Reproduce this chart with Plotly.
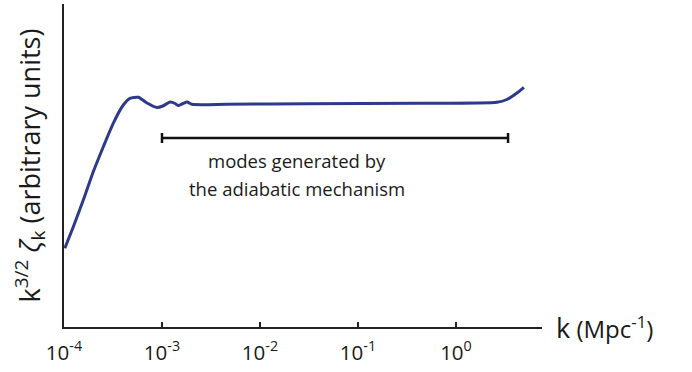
import plotly.graph_objects as go
import math

# curve data (k in Mpc^-1, amplitude in arbitrary units)
k_vals = [1.02e-4, 1.245e-4, 1.574e-4, 1.99e-4, 2.52e-4, 3.18e-4, 4.03e-4, 4.71e-4, 5.73e-4,
          7.03e-4, 8.89e-4, 1.02e-3, 1.21e-3, 1.36e-3, 1.46e-3, 1.64e-3, 1.80e-3,
          2.02e-3, 4.6e-3, 0.030, 0.43, 2.62, 3.31, 4.19, 4.94]
zeta_vals = [78.7, 100.3, 127, 155.3, 180.3, 203.7, 222, 228.7, 229.7,
             224, 219.5, 221, 225, 223.5, 221.5, 223.5, 225,
             222.7, 222.7, 223.3, 223.7, 224.7, 227.5, 234, 239.7]

# range bar for adiabatic modes
bar_k = [1.0e-3, 3.4]
bar_y = [189, 189]
bar_cap = [5, 5]
label_k = 0.0239
label_lines = ["modes generated by", "the adiabatic mechanism"]
label_y = [167, 139]

tick_vals = [1e-4, 1e-3, 1e-2, 1e-1, 1e0]
tick_text = ["10<sup>-4</sup>", "10<sup>-3</sup>", "10<sup>-2</sup>", "10<sup>-1</sup>", "10<sup>0</sup>"]

x_range_log = [-4, 0.878]
y_range = [0, 323]

FONT = "Open Sans"
TXT = "#1a1a1a"

fig = go.Figure()
fig.add_trace(go.Scatter(
    x=k_vals, y=zeta_vals, mode="lines",
    line=dict(color="#2d3a8c", width=3, shape="spline", smoothing=0.6),
    hoverinfo="skip", showlegend=False))
fig.add_trace(go.Scatter(
    x=bar_k, y=bar_y, mode="lines",
    line=dict(color="#111111", width=2.5),
    error_y=dict(type="data", array=bar_cap, symmetric=True, width=0,
                 thickness=2.5, color="#111111"),
    hoverinfo="skip", showlegend=False))

for line_text, ly in zip(label_lines, label_y):
    fig.add_annotation(x=math.log10(label_k), y=ly, xref="x", yref="y", text=line_text,
                       showarrow=False, font=dict(family=FONT, size=18.5, color=TXT),
                       align="center", yanchor="middle")

fig.add_annotation(x=1.0, y=0, xref="paper", yref="paper",
                   text="<span style='font-size:27px'>k</span>\u00a0(Mpc<sup>-1</sup>)",
                   showarrow=False, xanchor="left", yanchor="middle", xshift=12, yshift=0,
                   font=dict(family=FONT, size=24, color=TXT))

fig.update_layout(
    width=692, height=372,
    margin=dict(l=64, r=150, t=4, b=45),
    paper_bgcolor="white", plot_bgcolor="white",
    font=dict(family=FONT, color=TXT),
    xaxis=dict(type="log", range=x_range_log, showgrid=False, zeroline=False,
               automargin=False,
               showline=True, linecolor="#222222", linewidth=2,
               ticks="inside", ticklen=5, tickwidth=1.5, tickcolor="#222222",
               ticklabelstandoff=6,
               tickvals=tick_vals, ticktext=tick_text,
               tickfont=dict(family=FONT, size=20.5, color=TXT)),
    yaxis=dict(range=y_range, showgrid=False, zeroline=False, showticklabels=False,
               automargin=False,
               showline=True, linecolor="#222222", linewidth=2, ticks="",
               title=dict(text="k<sup>3/2</sup> <i>ζ</i><sub>k</sub> (arbitrary units)",
                          font=dict(family=FONT, size=27, color=TXT), standoff=14)),
)

fig.write_html("out.html", config={"displayModeBar": False},
               post_script="document.body.style.margin='0px';")
